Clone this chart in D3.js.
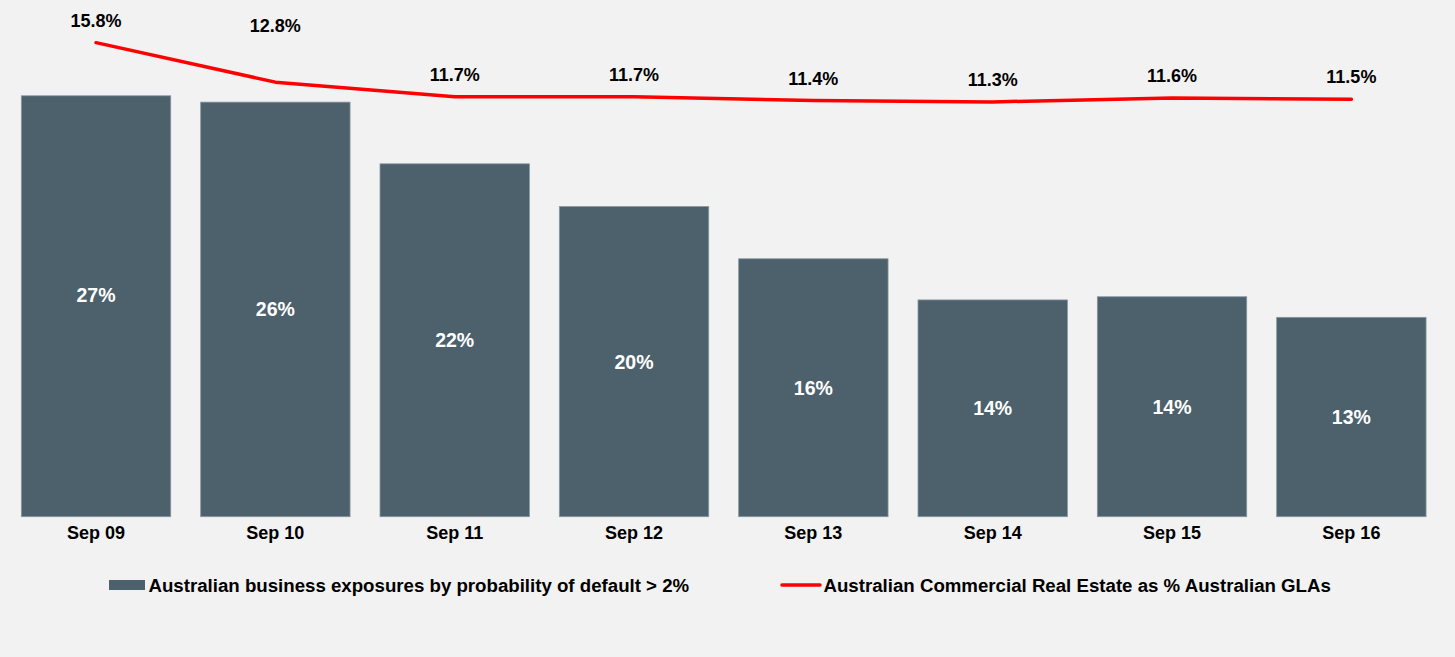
<!DOCTYPE html>
<html>
<head>
<meta charset="utf-8">
<script src="https://cdn.jsdelivr.net/npm/d3@7"></script>
<style>
  html, body { margin: 0; padding: 0; background: #f2f2f2; }
  svg { display: block; font-family: "Liberation Sans", Arial, sans-serif; font-weight: bold; }
</style>
</head>
<body>
<svg id="chart" width="1455" height="657"></svg>
<script>
// ---- data ----
const categories = ["Sep 09", "Sep 10", "Sep 11", "Sep 12", "Sep 13", "Sep 14", "Sep 15", "Sep 16"];
const barValues  = [26.6, 26.2, 22.3, 19.6, 16.3, 13.7, 13.9, 12.6];   // % business exposures PD > 2%
const lineValues = [15.8, 12.8, 11.7, 11.7, 11.4, 11.3, 11.6, 11.5];   // CRE as % of GLAs
const barSeriesName  = "Australian business exposures by probability of default > 2%";
const lineSeriesName = "Australian Commercial Real Estate as % Australian GLAs";

// ---- layout ----
const W = 1455, H = 657;
const plotTop = 42, plotBottom = 516.7;
const svg = d3.select("#chart");
svg.append("rect").attr("width", W).attr("height", H).attr("fill", "#f2f2f2");

const x = d3.scaleBand().domain(categories).range([6.4, 1441]).paddingInner(0.167).paddingOuter(0.0833);
const yBar = d3.scaleLinear().domain([0, 30]).range([plotBottom, plotTop]);
const yLine = d3.scaleLinear().domain([-20.2, 15.85]).range([plotBottom, plotTop]);

const barColor = "#4c616c";
const lineColor = "#ff0000";

// bars
svg.append("g").selectAll("rect").data(categories).join("rect")
  .attr("x", d => x(d))
  .attr("y", (d, i) => yBar(barValues[i]))
  .attr("width", x.bandwidth())
  .attr("height", (d, i) => yBar(0) - yBar(barValues[i]))
  .attr("fill", barColor)
  .attr("stroke", "#8697a1")
  .attr("stroke-width", 0.8);

// bar labels
const barLabelShift = [-11, 0, 0, 0, 0, 0, 0, 0];
svg.append("g").selectAll("text").data(categories).join("text")
  .attr("x", d => x(d) + x.bandwidth() / 2)
  .attr("y", (d, i) => (yBar(barValues[i]) + yBar(0)) / 2 + barLabelShift[i] + 7)
  .attr("text-anchor", "middle")
  .attr("fill", "#ffffff")
  .attr("font-size", "19.5px")
  .text((d, i) => Math.round(barValues[i]) + "%");

// x axis labels
const xAxis = d3.axisBottom(x).tickSize(0).tickPadding(0);
const gx = svg.append("g").attr("transform", `translate(0,${plotBottom})`).call(xAxis);
gx.select(".domain").remove();
gx.selectAll("text")
  .attr("dy", null)
  .attr("y", 22.5)
  .attr("fill", "#000")
  .attr("font-size", "18px")
  .attr("font-weight", "bold")
  .attr("font-family", "'Liberation Sans', Arial, sans-serif");

// line
const line = d3.line()
  .x((d, i) => x(categories[i]) + x.bandwidth() / 2)
  .y(d => yLine(d));
svg.append("path").datum(lineValues)
  .attr("d", line)
  .attr("fill", "none")
  .attr("stroke", lineColor)
  .attr("stroke-width", 3.5)
  .attr("stroke-linecap", "round")
  .attr("stroke-linejoin", "round");

// line labels
const lineLabelShift = [0, -34.6, 0, 0, 0, 0, 0, 0];
svg.append("g").selectAll("text").data(lineValues).join("text")
  .attr("x", (d, i) => x(categories[i]) + x.bandwidth() / 2)
  .attr("y", (d, i) => yLine(d) - 16 + lineLabelShift[i])
  .attr("text-anchor", "middle")
  .attr("fill", "#000")
  .attr("font-size", "18px")
  .text(d => d.toFixed(1) + "%");

// legend
const lg = svg.append("g");
lg.append("rect").attr("x", 109).attr("y", 580).attr("width", 36).attr("height", 10).attr("fill", barColor);
lg.append("text").attr("x", 148.5).attr("y", 592).attr("font-size", "18.67px").attr("fill", "#000").text(barSeriesName);
lg.append("line").attr("x1", 782).attr("x2", 820).attr("y1", 585).attr("y2", 585)
  .attr("stroke", lineColor).attr("stroke-width", 3.5).attr("stroke-linecap", "round");
lg.append("text").attr("x", 823.5).attr("y", 592).attr("font-size", "18.67px").attr("fill", "#000").text(lineSeriesName);
</script>
</body>
</html>
